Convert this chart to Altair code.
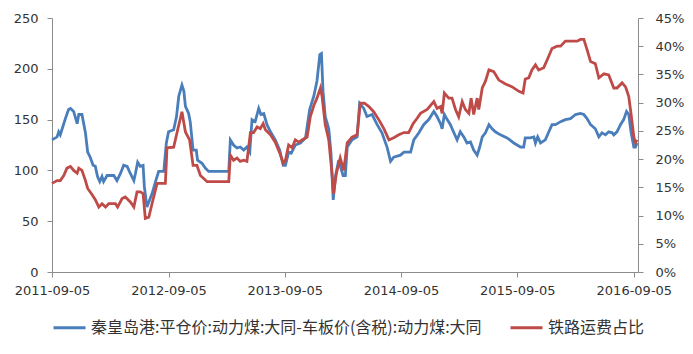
import altair as alt
import pandas as pd

START = pd.Timestamp("2011-09-05")

# Blue series: 秦皇岛港平仓价 - 大同车板价 (元/吨), left axis. Days after 2011-09-05.
blue_days = [0, 16, 21, 26, 31, 42, 52, 58, 68, 79, 84, 94, 105, 112, 120, 129, 136, 143, 150, 157,
             162, 173, 194, 204, 215, 225, 236, 246, 257, 262, 269, 277, 286, 290, 298, 314, 325, 335, 351, 359,
             366, 382, 391, 398, 408, 414, 419, 429, 434, 443, 453, 457, 471, 482, 492, 555,
             560, 570, 581, 591, 602, 612, 621, 628, 638, 649, 656, 665, 675, 686, 701, 715, 726, 733, 743, 751,
             764, 780, 796, 809, 822, 832, 841, 846, 851, 858, 869, 876, 883, 890, 900, 914, 921, 927, 942, 958,
             966, 979, 989, 1005, 1021, 1036, 1052, 1063, 1073, 1094, 1105, 1126, 1136, 1152, 1167, 1183, 1199, 1209,
             1220, 1225, 1232, 1241, 1251, 1262, 1272, 1282, 1293, 1303, 1314, 1324, 1335, 1343, 1351, 1361, 1372,
             1382, 1392, 1408, 1429, 1450, 1471, 1481, 1486, 1502, 1513, 1518, 1525, 1534, 1549, 1560, 1570, 1581,
             1597, 1612, 1628, 1644, 1659, 1670, 1680, 1691, 1706, 1717, 1727, 1738, 1748, 1759, 1764, 1774, 1785,
             1795, 1804, 1811, 1818, 1827, 1832, 1837]
blue_vals = [130, 133, 138, 135, 140, 151, 160, 161, 158, 146, 155, 155, 137, 118, 113, 105, 104, 94, 89, 94,
             89, 95, 95, 90, 97, 105, 104, 97, 90, 97, 108, 104, 105, 84, 64, 77, 89, 99, 99, 127,
             138, 140, 153, 173, 184, 178, 163, 156, 148, 120, 120, 110, 107, 102, 99, 99,
             130, 125, 122, 123, 120, 123, 118, 150, 148, 161, 155, 156, 145, 138, 130, 120, 105, 105, 118, 117,
             125, 127, 132, 160, 173, 188, 214, 215, 178, 153, 141, 117, 71, 94, 110, 95, 95, 123, 130, 133,
             166, 161, 153, 155, 145, 137, 123, 109, 113, 115, 118, 118, 130, 137, 145, 150, 158, 153,
             146, 141, 155, 150, 145, 137, 130, 138, 133, 127, 128, 120, 115, 123, 133, 137, 145,
             141, 138, 135, 132, 127, 123, 123, 132, 132, 133, 127, 133, 127, 130, 138, 145, 145,
             148, 150, 151, 155, 156, 155, 151, 145, 141, 133, 137, 135, 138, 137, 135, 138, 145,
             150, 158, 155, 138, 123, 123, 127]

# Red series: 铁路运费占比 (%), right axis. Days after 2011-09-05.
red_days = [0, 16, 26, 37, 47, 58, 68, 79, 84, 94, 105, 112, 126, 136, 147, 157, 168, 178, 199, 206,
            220, 230, 246, 257, 267, 277, 286, 293, 304, 314, 330, 356, 361, 382, 393, 408, 419, 432, 443, 455,
            466, 487, 555,
            560, 570, 581, 591, 602, 612, 623, 633, 644, 654, 663, 670, 686, 701, 715, 726, 733, 743, 754, 764,
            775, 785, 801, 811, 822, 832, 843, 848, 858, 869, 879, 884, 893, 905, 916, 927, 942, 958, 968, 981,
            995, 1010, 1026, 1042, 1058, 1073, 1089, 1105, 1120, 1134, 1146, 1157, 1178, 1199, 1209,
            1220, 1225, 1232, 1246, 1256, 1267, 1277, 1288, 1298, 1309, 1316, 1324, 1335, 1340, 1351, 1361, 1372,
            1387, 1403, 1424, 1445, 1466, 1479, 1486, 1497, 1507, 1518, 1528, 1544, 1555, 1570, 1586, 1597, 1612,
            1633, 1649, 1659, 1670, 1680, 1691, 1706, 1717, 1733, 1748, 1764, 1774, 1790, 1801, 1811, 1818, 1827,
            1832, 1837]
red_pct = [15.7, 16.2, 16.2, 17.1, 18.4, 18.7, 18.0, 17.5, 18.4, 18.0, 16.2, 14.8, 13.7, 12.8, 11.5, 12.1, 11.5, 12.1, 12.1, 11.5,
           13.0, 13.3, 12.4, 11.5, 14.2, 14.2, 13.9, 9.5, 9.7, 12.1, 15.7, 15.7, 22.0, 22.1, 24.8, 28.4, 24.8, 23.4, 18.9, 18.9,
           17.1, 16.0, 16.0,
           20.7, 19.8, 20.2, 19.6, 19.8, 19.6, 24.7, 24.7, 25.7, 25.4, 26.3, 25.2, 24.3, 23.0, 21.1, 19.3, 19.8, 22.5, 22.0, 23.4,
           23.0, 23.4, 23.9, 27.5, 29.5, 30.8, 32.6, 31.1, 26.1, 23.4, 17.5, 13.9, 17.5, 20.2, 18.0, 22.9, 23.9, 24.3, 29.9, 29.9,
           29.3, 28.4, 27.0, 25.4, 23.4, 23.8, 24.3, 24.7, 24.7, 26.3, 27.2, 28.1, 28.8, 30.2, 29.0,
           29.3, 28.1, 31.7, 30.8, 30.8, 28.8, 27.5, 30.2, 28.8, 28.1, 30.8, 27.9, 30.8, 28.8, 32.6, 33.8, 35.8,
           35.5, 34.0, 33.3, 32.8, 32.0, 31.7, 34.2, 34.4, 35.8, 36.7, 35.8, 36.2, 37.6, 39.6, 40.0, 40.0, 40.9,
           40.9, 40.9, 41.2, 41.2, 39.4, 37.3, 36.9, 34.4, 35.1, 34.9, 32.6, 32.6, 33.5, 32.8, 31.1, 28.1, 23.9,
           22.9, 23.4]

series_names = ["秦皇岛港:平仓价:动力煤:大同-车板价(含税):动力煤:大同", "铁路运费占比"]
series_colors = ["#4a7ebb", "#be4b48"]
left_ticks = [0, 50, 100, 150, 200, 250]
right_ticks = [0, 5, 10, 15, 20, 25, 30, 35, 40, 45]
x_tick_years = [2011, 2012, 2013, 2014, 2015, 2016]


def to_dates(days):
    return [(START + pd.Timedelta(days=d)).strftime("%Y-%m-%d") for d in days]


blue_df = pd.DataFrame({"date": to_dates(blue_days), "value": blue_vals, "series": series_names[0]})
red_df = pd.DataFrame({"date": to_dates(red_days), "pct": red_pct, "series": series_names[1]})

FONT = "DejaVu Sans"
AXIS_COLOR = "#8c8c8c"
LABEL_COLOR = "#333333"

x_enc = alt.X(
    "date:T",
    scale=alt.Scale(
        type="utc",
        domain=[alt.DateTime(year=2011, month=9, date=5, utc=True),
                alt.DateTime(year=2016, month=9, date=18, utc=True)],
    ),
    axis=alt.Axis(
        values=[alt.DateTime(year=y, month=9, date=5, utc=True) for y in x_tick_years],
        labelExpr="utcFormat(datum.value, '%Y-%m-%d')",
        labelAngle=0,
        labelFlush=False,
        labelOverlap=False,
        labelAlign="center",
        grid=False,
        tickSize=5,
        labelPadding=7,
        domainColor=AXIS_COLOR,
        tickColor=AXIS_COLOR,
        labelColor=LABEL_COLOR,
        labelFont=FONT,
        labelFontSize=13,
        title=None,
    ),
)

color_enc = alt.Color(
    "series:N",
    scale=alt.Scale(domain=series_names, range=series_colors),
    legend=alt.Legend(
        orient="none",
        legendX=0,
        legendY=292,
        direction="horizontal",
        symbolType="stroke",
        symbolSize=1024,
        symbolStrokeWidth=3,
        labelFont="Noto Sans CJK SC",
        labelFontSize=16,
        labelColor=LABEL_COLOR,
        labelLimit=700,
        labelOffset=4,
        columnPadding=22,
        padding=0,
        title=None,
    ),
)

blue = alt.Chart(blue_df).mark_line(strokeWidth=2.8, interpolate="linear").encode(
    x=x_enc,
    y=alt.Y(
        "value:Q",
        scale=alt.Scale(domain=[0, 250], nice=False, zero=True),
        axis=alt.Axis(
            orient="left",
            values=left_ticks,
            grid=False,
            tickSize=5,
            labelPadding=9,
            domainColor=AXIS_COLOR,
            tickColor=AXIS_COLOR,
            labelColor=LABEL_COLOR,
            labelFont=FONT,
            labelFontSize=13,
            title=None,
        ),
    ),
    color=color_enc,
)

red = alt.Chart(red_df).mark_line(strokeWidth=2.8, interpolate="linear").encode(
    x=x_enc,
    y=alt.Y(
        "pct:Q",
        scale=alt.Scale(domain=[0, 45], nice=False, zero=True),
        axis=alt.Axis(
            orient="right",
            values=right_ticks,
            labelExpr="datum.value + '%'",
            grid=False,
            tickSize=5,
            labelPadding=12,
            domainColor=AXIS_COLOR,
            tickColor=AXIS_COLOR,
            labelColor=LABEL_COLOR,
            labelFont=FONT,
            labelFontSize=13,
            title=None,
        ),
    ),
    color=color_enc,
)

chart = (
    alt.layer(blue, red)
    .resolve_scale(y="independent")
    .properties(
        width=586,
        height=254,
        padding={"left": 52, "top": 18, "right": 55, "bottom": 82},
        autosize=alt.AutoSizeParams(type="none"),
        background="white",
    )
    .configure_view(stroke=None)
)

chart.save("out.html", embed_options={"renderer": "svg", "actions": False})
